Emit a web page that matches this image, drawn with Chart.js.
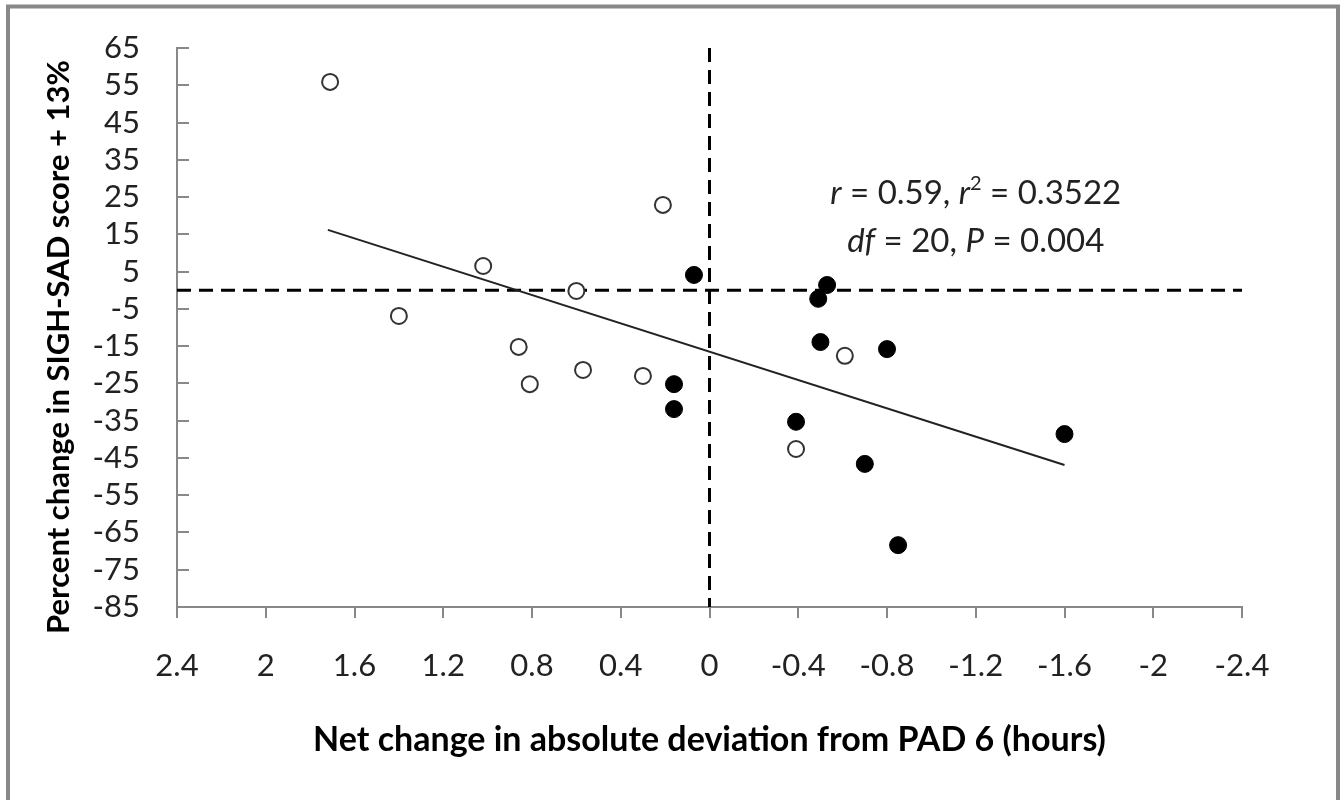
<!DOCTYPE html>
<html>
<head>
<meta charset="utf-8">
<script src="https://cdn.jsdelivr.net/npm/chart.js@4.4.1/dist/chart.umd.min.js"></script>
<style>
  html, body { margin: 0; padding: 0; background: #fff; }
  canvas { display: block; }
</style>
</head>
<body>
<canvas id="chart" width="1344" height="800"></canvas>
<script>
const FONT = "Lato, 'Open Sans', sans-serif";
const AXIS = "#888888";
const TEXT = "#222222";

// tick values
const xTicks = [2.4, 2, 1.6, 1.2, 0.8, 0.4, 0, -0.4, -0.8, -1.2, -1.6, -2, -2.4];
const yTicks = [65, 55, 45, 35, 25, 15, 5, -5, -15, -25, -35, -45, -55, -65, -75, -85];

// open circles
const openX = [1.71, 0.21, 1.02, 0.6, 1.4, 0.86, 0.81, 0.57, 0.3, -0.61, -0.39];
const openY = [55.9, 22.9, 6.5, -0.2, -6.9, -15.2, -25.2, -21.4, -23.0, -17.6, -42.6];

// filled circles
const filledX = [0.07, -0.53, -0.49, -0.5, -0.8, 0.16, 0.16, -0.39, -0.7, -0.85, -1.6];
const filledY = [4.1, 1.4, -2.3, -13.9, -15.8, -25.2, -31.9, -35.3, -46.6, -68.4, -38.6];

// regression line end points
const regX = [1.72, -1.6];
const regY = [16.2, -46.9];

// dashed reference lines
const hRefX = [2.4, -2.4];
const hRefY = [0, 0];
const vRefX = [0, 0];
const vRefY = [65, -85];

const xTitle = "Net change in absolute deviation from PAD 6 (hours)";
const yTitle = "Percent change in SIGH-SAD score + 13%";
const statLines = [
  [{ t: "r", it: true }, { t: " = 0.59, " }, { t: "r", it: true }, { t: "2", sup: true }, { t: " = 0.3522" }],
  [{ t: "df", it: true }, { t: " = 20, " }, { t: "P", it: true }, { t: " = 0.004" }],
];
const statAt = { x: -1.2, y: [26, 13] };

const pts = (xs, ys) => xs.map((x, i) => ({ x, y: ys[i] }));
const fmt = (v) => String(Math.round(v * 10) / 10);

const extras = {
  id: "extras",
  beforeDraw(chart) {
    const ctx = chart.ctx;
    ctx.save();
    ctx.fillStyle = "#fff";
    ctx.fillRect(0, 0, chart.width, chart.height);
    ctx.strokeStyle = AXIS;
    ctx.lineWidth = 4;
    ctx.strokeRect(8, 6.5, 1330, 900);
    ctx.restore();
  },
  afterDraw(chart) {
    const ctx = chart.ctx;
    const { x, y } = chart.scales;

    // y axis title
    ctx.save();
    ctx.translate(59, 347);
    ctx.rotate(-Math.PI / 2);
    ctx.font = `bold 31px ${FONT}`;
    ctx.fillStyle = "#000";
    ctx.textAlign = "center";
    ctx.textBaseline = "middle";
    ctx.fillText(yTitle, 0, 0);
    ctx.restore();

    // statistics text
    const size = 33;
    const cx = x.getPixelForValue(statAt.x);
    statLines.forEach((segs, li) => {
      const cy = y.getPixelForValue(statAt.y[li]);
      ctx.save();
      ctx.fillStyle = TEXT;
      ctx.textBaseline = "middle";
      ctx.textAlign = "left";
      const fontOf = (s) =>
        `${s.it ? "italic " : ""}${s.sup ? Math.round(size * 0.6) : size}px ${FONT}`;
      let total = 0;
      segs.forEach((s) => {
        ctx.font = fontOf(s);
        total += ctx.measureText(s.t).width;
      });
      let px = cx - total / 2;
      segs.forEach((s) => {
        ctx.font = fontOf(s);
        ctx.fillText(s.t, px, s.sup ? cy - size * 0.3 : cy);
        px += ctx.measureText(s.t).width;
      });
      ctx.restore();
    });
  },
};

new Chart(document.getElementById("chart").getContext("2d"), {
  type: "scatter",
  data: {
    datasets: [
      {
        label: "filled",
        data: pts(filledX, filledY),
        pointRadius: 8.5,
        pointBackgroundColor: "#000",
        pointBorderColor: "#000",
        pointBorderWidth: 1,
      },
      {
        label: "open",
        data: pts(openX, openY),
        pointRadius: 8,
        pointBackgroundColor: "#fff",
        pointBorderColor: "#333",
        pointBorderWidth: 2,
      },
      {
        type: "line",
        label: "fit",
        data: pts(regX, regY),
        borderColor: "#222",
        borderWidth: 2,
        pointRadius: 0,
        fill: false,
      },
      {
        type: "line",
        label: "h0",
        data: pts(hRefX, hRefY),
        borderColor: "#000",
        borderWidth: 3,
        borderDash: [14, 8],
        pointRadius: 0,
        fill: false,
      },
      {
        type: "line",
        label: "v0",
        data: pts(vRefX, vRefY),
        borderColor: "#000",
        borderWidth: 3,
        borderDash: [14, 8],
        pointRadius: 0,
        fill: false,
      },
    ],
  },
  options: {
    responsive: false,
    animation: false,
    layout: { padding: { top: 48, right: 102, left: 0, bottom: 0 } },
    plugins: {
      legend: { display: false },
      tooltip: { enabled: false },
    },
    scales: {
      x: {
        type: "linear",
        reverse: true,
        min: -2.4,
        max: 2.4,
        afterBuildTicks: (s) => { s.ticks = xTicks.map((v) => ({ value: v })); },
        afterFit: (s) => { s.height = 193; },
        border: { color: AXIS, width: 2 },
        grid: { drawOnChartArea: false, color: AXIS, lineWidth: 2, tickLength: 11 },
        ticks: {
          autoSkip: false,
          maxRotation: 0,
          padding: 29,
          color: TEXT,
          font: { family: FONT, size: 31 },
          callback: (v) => fmt(v),
        },
        title: {
          display: true,
          text: xTitle,
          color: "#000",
          font: { family: FONT, size: 34, weight: "bold" },
          padding: { top: 0, bottom: 40 },
        },
      },
      y: {
        min: -85,
        max: 65,
        afterBuildTicks: (s) => { s.ticks = yTicks.map((v) => ({ value: v })); },
        afterFit: (s) => {
          s.width = 177;
          s.paddingTop = 0;
          s.paddingBottom = 0;
        },
        border: { color: AXIS, width: 2 },
        grid: { drawOnChartArea: false, color: AXIS, lineWidth: 2, tickLength: -12 },
        ticks: {
          autoSkip: false,
          padding: 49,
          color: TEXT,
          font: { family: FONT, size: 31 },
          callback: (v) => fmt(v),
        },
      },
    },
  },
  plugins: [extras],
});
</script>
</body>
</html>
